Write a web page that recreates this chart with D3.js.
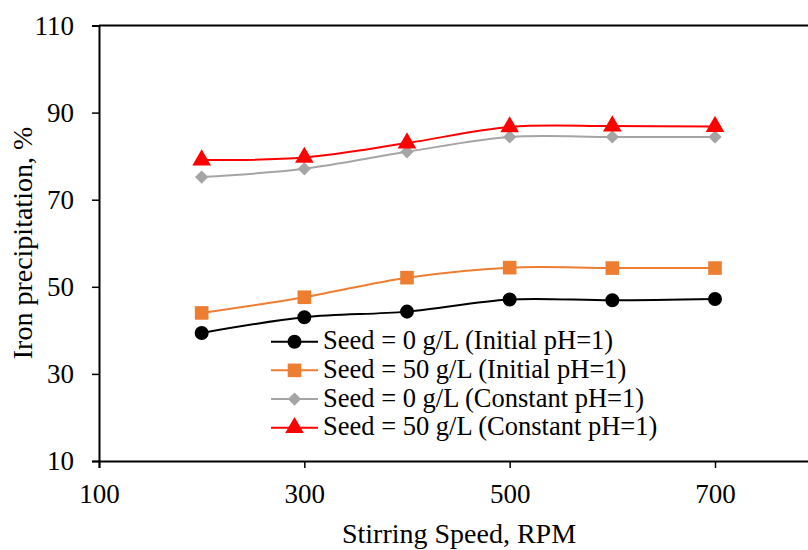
<!DOCTYPE html>
<html>
<head>
<meta charset="utf-8">
<script src="https://cdn.jsdelivr.net/npm/d3@7"></script>
<style>
  html, body { margin: 0; padding: 0; background: #fff; }
  svg { display: block; font-family: "Liberation Serif", "Times New Roman", serif; }
</style>
</head>
<body>
<svg id="chart" width="808" height="550"></svg>
<script>
// Stirring speed (RPM) and iron precipitation (%) for each condition
const speeds = [200, 300, 400, 500, 600, 700];
const seed0Initial = [39.4, 43.0, 44.3, 47.1, 46.9, 47.2];
const seed50Initial = [44.0, 47.6, 52.1, 54.4, 54.3, 54.3];
const seed0Constant = [75.2, 77.1, 81.0, 84.4, 84.4, 84.4];
const seed50Constant = [79.1, 79.7, 83.0, 86.7, 86.9, 86.8];
const seriesNames = [
  "Seed = 0 g/L (Initial pH=1)",
  "Seed = 50 g/L (Initial pH=1)",
  "Seed = 0 g/L (Constant pH=1)",
  "Seed = 50 g/L (Constant pH=1)"
];
const xTicks = [100, 300, 500, 700];
const yTicks = [10, 30, 50, 70, 90, 110];

// diamond markers are squares turned by 45 degrees
const series = [
  { name: seriesNames[0], values: seed0Initial, color: "#000000", symbol: d3.symbolCircle, size: 154, rot: 0 },
  { name: seriesNames[1], values: seed50Initial, color: "#ED7D31", symbol: d3.symbolSquare, size: 185, rot: 0 },
  { name: seriesNames[2], values: seed0Constant, color: "#A5A5A5", symbol: d3.symbolSquare, size: 88, rot: 45 },
  { name: seriesNames[3], values: seed50Constant, color: "#FF0000", symbol: d3.symbolTriangle, size: 150, rot: 0 }
];

const svg = d3.select("#chart");
const plotLeft = 99, plotTop = 25.5, plotBottom = 461;
const pxPerRpm = 616 / 600;

const x = d3.scaleLinear().domain([100, 900]).range([plotLeft, plotLeft + 800 * pxPerRpm]);
const y = d3.scaleLinear().domain([10, 110]).range([plotBottom, plotTop]);
const font = "Liberation Serif, Times New Roman, serif";

// top frame line
svg.append("line")
  .attr("x1", plotLeft).attr("x2", 808)
  .attr("y1", y(110)).attr("y2", y(110))
  .attr("stroke", "#000").attr("stroke-width", 2);

// Y axis
const yAxis = svg.append("g")
  .attr("transform", `translate(${plotLeft},0)`)
  .call(d3.axisLeft(y).tickValues(yTicks).tickSize(7).tickPadding(18));
yAxis.select(".domain").attr("stroke-width", 2);
yAxis.selectAll(".tick line").attr("stroke-width", 1.5);
yAxis.selectAll("text").attr("font-size", 27).attr("fill", "#000")
  .attr("font-family", font);

// X axis
const xAxis = svg.append("g")
  .attr("transform", `translate(0,${plotBottom})`)
  .call(d3.axisBottom(x).tickValues(xTicks).tickSize(7).tickPadding(16));
xAxis.select(".domain").attr("stroke-width", 2);
xAxis.selectAll(".tick line").attr("stroke-width", 1.5);
xAxis.selectAll("text").attr("font-size", 27).attr("fill", "#000")
  .attr("font-family", font);

// Axis titles
svg.append("text")
  .attr("x", 459).attr("y", 543)
  .attr("text-anchor", "middle")
  .attr("font-size", 28)
  .attr("font-family", font)
  .text("Stirring Speed, RPM");

svg.append("text")
  .attr("transform", `translate(32,243) rotate(-90)`)
  .attr("text-anchor", "middle")
  .attr("font-size", 28)
  .attr("font-family", font)
  .text("Iron precipitation, %");

// Smoothed lines with markers
const line = d3.line()
  .x((d, i) => x(speeds[i]))
  .y(d => y(d))
  .curve(d3.curveCatmullRom.alpha(0.5));

series.forEach(s => {
  svg.append("path")
    .attr("d", line(s.values))
    .attr("fill", "none")
    .attr("stroke", s.color)
    .attr("stroke-width", 2);
  svg.append("g").selectAll("path")
    .data(s.values)
    .join("path")
    .attr("transform", (d, i) => `translate(${x(speeds[i])},${y(d)}) rotate(${s.rot})`)
    .attr("d", d3.symbol().type(s.symbol).size(s.size))
    .attr("fill", s.color);
});

// Legend
const legend = svg.append("g");
series.forEach((s, i) => {
  const ly = 341.7 + i * 28.67;
  legend.append("line")
    .attr("x1", 271).attr("x2", 318)
    .attr("y1", ly).attr("y2", ly)
    .attr("stroke", s.color).attr("stroke-width", 2);
  legend.append("path")
    .attr("transform", `translate(294.5,${ly}) rotate(${s.rot})`)
    .attr("d", d3.symbol().type(s.symbol).size(s.size))
    .attr("fill", s.color);
  legend.append("text")
    .attr("x", 323).attr("y", ly + 7.5)
    .attr("font-size", 26.5)
    .attr("font-family", font)
    .text(s.name);
});
</script>
</body>
</html>
